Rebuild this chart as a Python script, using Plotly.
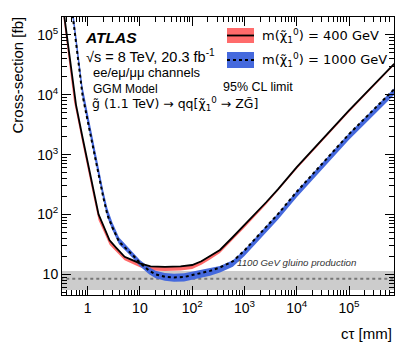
import plotly.graph_objects as go

# m(chi) = 400 GeV : limit line and its band
ctau_400 = [0.35, 0.40, 0.50, 0.55, 0.60, 0.80, 0.93, 1.0, 1.09, 1.3, 1.62, 2.0, 2.63, 3.5,
            5.1, 7.0, 10, 16, 30, 60, 100, 150, 220, 340, 600, 1000, 2600, 4400,
            1e4, 1e5, 7.3e5]
xsec_400 = [2.4e5, 9.4e4, 1.94e4, 1.0e4, 6800, 1930, 1000, 720, 490, 242, 100, 65, 37, 28,
            19.6, 17.4, 15.2, 13.6, 13.3, 13.6, 14.3, 16.5, 20, 25.5, 42, 66, 160, 265,
            620, 5500, 33000]
band_400_lo = [1.73e5, 6.8e4, 1.44e4, 7600, 5240, 1505, 790, 570, 392, 194, 80, 53.3, 31.1, 24.1,
               17.1, 15.1, 13.1, 11.6, 11.3, 11.6, 12.3, 14.4, 17.6, 22.7, 37.8, 60, 147, 244,
               577, 5115, 31000]
band_400_hi = [2.5e5, 9.8e4, 2.0e4, 1.04e4, 7000, 2000, 1040, 750, 510, 252, 104, 67, 38, 28.6,
               20.0, 17.7, 15.5, 13.8, 13.5, 13.8, 14.5, 16.8, 20.3, 25.9, 42.6, 67, 162, 268,
               628, 5580, 33500]

# m(chi) = 1000 GeV : limit line and its band
ctau_1000 = [0.50, 0.60, 0.70, 0.80, 1.0, 1.3, 1.6, 2.0, 2.4, 3.0, 4.0, 5.5, 7.9,
             10, 15, 20, 30, 45, 70, 100, 150, 220, 340, 600, 1000, 2600, 4400,
             1e4, 1e5, 7.3e5]
xsec_1000 = [2.7e5, 7.4e4, 2.5e4, 9800, 3700, 1170, 468, 191, 97, 60, 35, 27, 19.5,
             15.5, 11.5, 10, 9.1, 8.85, 9.0, 9.7, 10.4, 11.4, 13, 16.5, 25, 62, 102,
             240, 2200, 12400]
band_1000_lo = [2.4e5, 6.6e4, 2.2e4, 8800, 3300, 1050, 420, 172, 87, 54, 31.5, 24, 17.4,
                13.6, 10.0, 8.6, 7.8, 7.5, 7.6, 8.2, 8.8, 9.5, 10.7, 13.4, 20.2, 50, 82,
                193, 1770, 10000]
band_1000_hi = [3.8e5, 1.04e5, 3.5e4, 1.37e4, 5100, 1600, 630, 250, 126, 73, 41.3, 31, 22,
                17.4, 13.1, 11.5, 10.5, 10.2, 10.4, 11.1, 11.8, 12.5, 13.8, 17.2, 25.8, 64, 105,
                247, 2270, 12800]

# 1100 GeV gluino production cross-section with its uncertainty
gluino_xsec = 8.4
gluino_lo = 5.45
gluino_hi = 11.4
ctau_span = [0.3, 8e5]

x_ticks = [1, 10, 100, 1e3, 1e4, 1e5]
x_labels = ["1", "10", "10<sup>2</sup>", "10<sup>3</sup>", "10<sup>4</sup>", "10<sup>5</sup>"]
y_ticks = [10, 100, 1e3, 1e4, 1e5]
y_labels = ["10", "10<sup>2</sup>", "10<sup>3</sup>", "10<sup>4</sup>", "10<sup>5</sup>"]

RED = "#ff6b6b"
BLUE = "#4569dd"
FONT = "Liberation Sans, Arial, sans-serif"
SYM = "DejaVu Sans"

# the page puts the figure 8 px in from the top-left corner
OFF = 8

fig = go.Figure()

# gluino production band + central value
fig.add_trace(go.Scatter(x=ctau_span, y=[gluino_lo] * 2, mode="lines",
                         line=dict(width=0), showlegend=False, hoverinfo="skip"))
fig.add_trace(go.Scatter(x=ctau_span, y=[gluino_hi] * 2, mode="lines", fill="tonexty",
                         fillcolor="#cccccc", line=dict(width=0), showlegend=False))
fig.add_trace(go.Scatter(x=ctau_span, y=[gluino_xsec] * 2, mode="lines",
                         line=dict(color="#777777", width=2, dash="dot"), showlegend=False))

# bands
fig.add_trace(go.Scatter(x=ctau_400 + ctau_400[::-1], y=band_400_hi + band_400_lo[::-1],
                         fill="toself", fillcolor=RED, mode="lines", line=dict(width=0),
                         showlegend=False))
fig.add_trace(go.Scatter(x=ctau_1000 + ctau_1000[::-1], y=band_1000_hi + band_1000_lo[::-1],
                         fill="toself", fillcolor=BLUE, mode="lines", line=dict(width=0),
                         showlegend=False))

# limit lines
fig.add_trace(go.Scatter(x=ctau_400, y=xsec_400, mode="lines",
                         line=dict(color="black", width=1.8), showlegend=False))
fig.add_trace(go.Scatter(x=ctau_1000, y=xsec_1000, mode="lines",
                         line=dict(color="black", width=2, dash="dot"), showlegend=False))

axis_common = dict(type="log", showgrid=False, zeroline=False, showline=True,
                   linecolor="black", linewidth=1, mirror="allticks",
                   ticks="inside", ticklen=9, tickcolor="black",
                   tickfont=dict(family=FONT, size=14, color="black"),
                   minor=dict(ticks="inside", ticklen=5, tickcolor="black",
                              dtick="D1", showgrid=False))

fig.update_layout(
    width=415 - OFF, height=351 - OFF,
    margin=dict(l=62 - OFF, r=21, t=17 - OFF, b=56),
    paper_bgcolor="white", plot_bgcolor="white",
    xaxis=dict(range=[-0.49, 5.86], tickvals=x_ticks, ticktext=x_labels, **axis_common),
    yaxis=dict(range=[0.654, 5.30], tickvals=y_ticks, ticktext=y_labels, **axis_common),
    showlegend=False,
)


def px_x(p):
    return (p - 62) / 332


def px_y(p):
    return (295 - p) / 278


def label(text, x, y, size, **kw):
    fig.add_annotation(text=text, xref="paper", yref="paper", x=px_x(x), y=px_y(y),
                       xanchor=kw.pop("xanchor", "left"), yanchor=kw.pop("yanchor", "middle"),
                       showarrow=False, font=dict(family=kw.pop("family", FONT), size=size,
                                                  color=kw.pop("color", "black")), **kw)


# axis titles
label("Cross-section [fb]", 17, 15, 15, xanchor="center", yanchor="top", textangle=-90)
label("cτ [mm]", 394, 333, 15, xanchor="right")

# ATLAS labels
label("<b><i>ATLAS</i></b>", 83, 37, 15.5)
label("√s = 8 TeV, 20.3 fb<sup>-1</sup>", 84, 56, 14.5)
label("ee/eμ/μμ channels", 91, 72, 13)
label("GGM Model", 91, 89, 12)
label("g̃ (1.1 TeV) → qq[χ̃<sub>1</sub><sup>0</sup> → ZG̃]", 90, 104, 12.5, family=SYM)

# legend
fig.add_shape(type="rect", xref="paper", yref="paper", x0=px_x(227), x1=px_x(254),
              y0=px_y(43), y1=px_y(28), fillcolor=RED, line=dict(width=0))
fig.add_shape(type="line", xref="paper", yref="paper", x0=px_x(227), x1=px_x(254),
              y0=px_y(35.5), y1=px_y(35.5), line=dict(color="black", width=1.8))
fig.add_shape(type="rect", xref="paper", yref="paper", x0=px_x(227), x1=px_x(254),
              y0=px_y(68), y1=px_y(52), fillcolor=BLUE, line=dict(width=0))
fig.add_shape(type="line", xref="paper", yref="paper", x0=px_x(227), x1=px_x(254),
              y0=px_y(60), y1=px_y(60), line=dict(color="black", width=2, dash="dot"))
label("m(χ̃<sub>1</sub><sup>0</sup>) = 400 GeV", 260, 36, 13, family=SYM)
label("m(χ̃<sub>1</sub><sup>0</sup>) = 1000 GeV", 260, 60, 13, family=SYM)
label("95% CL limit", 221, 87, 12.5)

label("<i>1100 GeV gluino production</i>", 235, 262, 9.7, color="#333333")

fig.write_html("out.html")
